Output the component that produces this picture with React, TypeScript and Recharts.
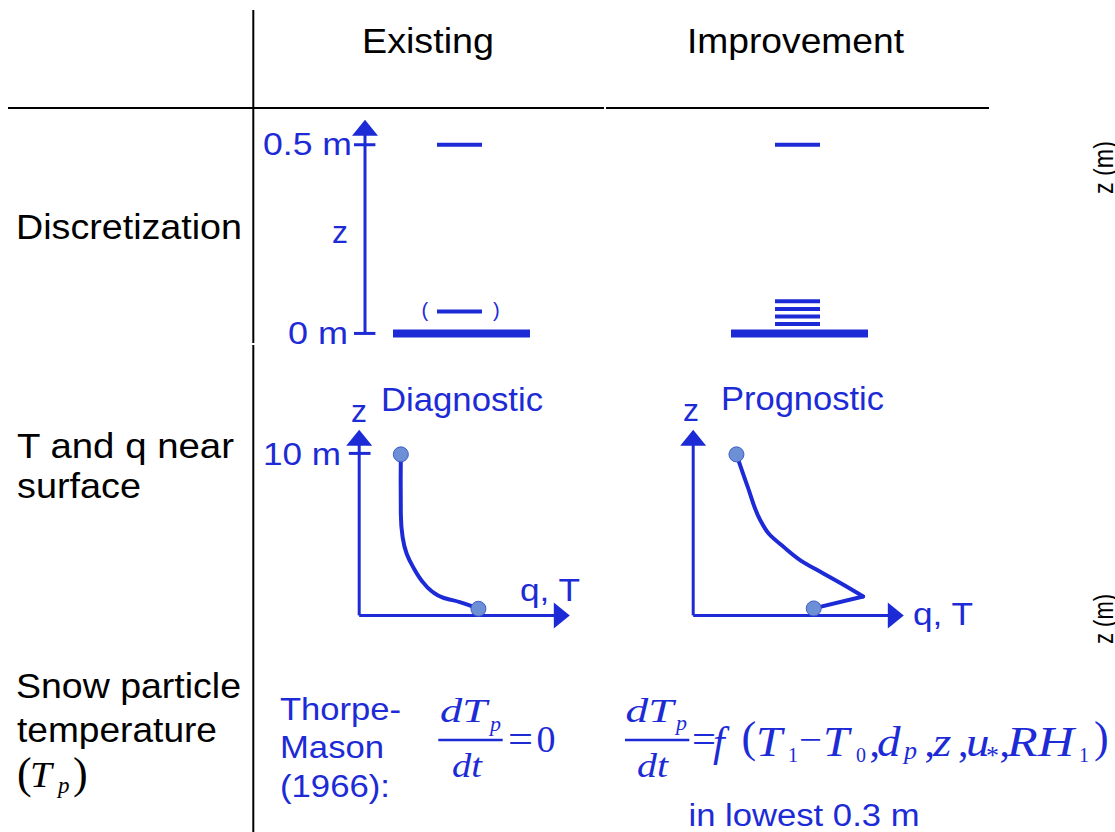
import React from 'react';
import { ComposedChart, Line, Scatter, XAxis, YAxis, ReferenceLine } from 'recharts';

// ---------- data ----------
const columnHeaders = ['Existing', 'Improvement'];
const rowLabels = ['Discretization', 'T and q near', 'surface', 'Snow particle', 'temperature'];

// Discretization panels (z in m)
const discTicks = [0, 0.5];
const discTickLabels = ['0 m', '0.5 m'];
const existingLevels = [0.5];
const existingOptionalLevels = [0.058];
const improvedLevels = [0.5, 0.085, 0.065, 0.045, 0.025];
const groundZ = 0;
const levelSpan = [3.6, 5.85];
const groundSpan = [1.4, 8.25];
const discAxisTop = 0.566;

// Near-surface profiles (z in m, q/T arbitrary units)
const diagnosticProfile = [
  { x: 2.57, z: 9.94 }, { x: 2.56, z: 8.33 }, { x: 2.57, z: 6.28 }, { x: 2.68, z: 4.83 },
  { x: 2.93, z: 3.81 }, { x: 3.33, z: 2.98 }, { x: 3.85, z: 2.16 }, { x: 4.47, z: 1.5 },
  { x: 5.19, z: 1.09 }, { x: 6.21, z: 0.82 }, { x: 7.36, z: 0.41 },
];
const diagnosticDots = [{ x: 2.57, z: 9.94 }, { x: 7.36, z: 0.41 }];
const prognosticProfile = [
  { x: 2.67, z: 9.94 }, { x: 3.37, z: 7.92 }, { x: 4.15, z: 5.86 }, { x: 4.67, z: 5.04 },
  { x: 5.59, z: 4.22 }, { x: 6.62, z: 3.4 }, { x: 8.06, z: 2.57 }, { x: 9.51, z: 1.75 },
  { x: 10.49, z: 1.17 },
];
const prognosticSurfaceLink = [{ x: 10.49, z: 1.17 }, { x: 7.44, z: 0.43 }];
const prognosticDots = [{ x: 2.67, z: 9.94 }, { x: 7.44, z: 0.43 }];
const profileTicks = [10];
const profileAxisTop = 11.46;
const profileAxisRight = 13.0;

// ---------- styles ----------
const BLUE = '#1d2bd6';
const DOT_FILL = '#6d8fd6';
const DOT_STROKE = '#3a5cc8';
const SANS = '"Liberation Sans", Arial, sans-serif';
const SERIF = '"Liberation Serif", "Times New Roman", serif';
const M = 24;

const arrowUp = (p: any) => (
  <polygon points={`${p.cx},${p.cy} ${p.cx - 13},${p.cy + 16} ${p.cx + 13},${p.cy + 16}`} fill={BLUE} />
);
const arrowRight = (p: any) => (
  <polygon points={`${p.cx},${p.cy} ${p.cx - 16},${p.cy - 13} ${p.cx - 16},${p.cy + 13}`} fill={BLUE} />
);
const dotShape = (p: any) => (
  <circle cx={p.cx} cy={p.cy} r={7.5} fill={DOT_FILL} stroke={DOT_STROKE} strokeWidth={1} />
);

const seg = (x0: number, x1: number, z: number) => [{ x: x0, z }, { x: x1, z }];

function DiscChart({ ox, oy, levels, optional, showAxis }: any) {
  const kx = 20, kz = 377.4;
  const xDom = [-1, 10], zDom = [-0.05, 0.6];
  const pw = (xDom[1] - xDom[0]) * kx, ph = (zDom[1] - zDom[0]) * kz;
  return (
    <div style={{ position: 'absolute', left: ox + xDom[0] * kx - M, top: oy - zDom[1] * kz - M }}>
      <ComposedChart width={pw + 2 * M} height={ph + 2 * M} margin={{ top: M, right: M, bottom: M, left: M }}>
        <XAxis type="number" dataKey="x" domain={xDom} hide allowDataOverflow />
        <YAxis type="number" dataKey="z" domain={zDom} hide allowDataOverflow />
        {showAxis && (
          <ReferenceLine segment={[{ x: 0, y: 0 }, { x: 0, y: 0.53 }]} stroke={BLUE} strokeWidth={3} ifOverflow="visible" />
        )}
        {showAxis && discTicks.map((t) => (
          <ReferenceLine key={t} segment={[{ x: -0.55, y: t }, { x: 0.52, y: t }]} stroke={BLUE} strokeWidth={3} ifOverflow="visible" />
        ))}
        {showAxis && (
          <Scatter data={[{ x: 0, z: discAxisTop }]} dataKey="z" shape={arrowUp} isAnimationActive={false} />
        )}
        <Line data={seg(groundSpan[0], groundSpan[1], groundZ)} dataKey="z" type="linear" stroke={BLUE} strokeWidth={8}
          dot={false} activeDot={false} isAnimationActive={false} />
        {levels.map((z: number, i: number) => (
          <Line key={'l' + i} data={seg(levelSpan[0], levelSpan[1], z)} dataKey="z" type="linear" stroke={BLUE} strokeWidth={4}
            dot={false} activeDot={false} isAnimationActive={false} />
        ))}
        {optional.map((z: number, i: number) => (
          <Line key={'o' + i} data={seg(levelSpan[0], levelSpan[1], z)} dataKey="z" type="linear" stroke={BLUE} strokeWidth={4}
            dot={false} activeDot={false} isAnimationActive={false} />
        ))}
      </ComposedChart>
    </div>
  );
}

function ProfileChart({ ox, oy, curve, link, dots, ticks }: any) {
  const k = 16.2;
  const xDom = [-1, 13.5], zDom = [-1, 12];
  const pw = (xDom[1] - xDom[0]) * k, ph = (zDom[1] - zDom[0]) * k;
  return (
    <div style={{ position: 'absolute', left: ox + xDom[0] * k - M, top: oy - zDom[1] * k - M }}>
      <ComposedChart width={pw + 2 * M} height={ph + 2 * M} margin={{ top: M, right: M, bottom: M, left: M }}>
        <XAxis type="number" dataKey="x" domain={xDom} hide allowDataOverflow />
        <YAxis type="number" dataKey="z" domain={zDom} hide allowDataOverflow />
        <ReferenceLine segment={[{ x: 0, y: 0 }, { x: 0, y: 10.6 }]} stroke={BLUE} strokeWidth={3} ifOverflow="visible" />
        <ReferenceLine segment={[{ x: 0, y: 0 }, { x: 12.1, y: 0 }]} stroke={BLUE} strokeWidth={3} ifOverflow="visible" />
        {ticks.map((t: number) => (
          <ReferenceLine key={t} segment={[{ x: -0.64, y: t }, { x: 0.7, y: t }]} stroke={BLUE} strokeWidth={3} ifOverflow="visible" />
        ))}
        <Scatter data={[{ x: 0, z: profileAxisTop }]} dataKey="z" shape={arrowUp} isAnimationActive={false} />
        <Scatter data={[{ x: profileAxisRight, z: 0 }]} dataKey="z" shape={arrowRight} isAnimationActive={false} />
        <Scatter data={dots} dataKey="z" shape={dotShape} isAnimationActive={false} />
        <Line data={curve} dataKey="z" type="monotoneY" stroke={BLUE} strokeWidth={4} dot={false} activeDot={false}
          isAnimationActive={false} strokeLinecap="round" strokeLinejoin="round" />
        {link && (
          <Line data={link} dataKey="z" type="linear" stroke={BLUE} strokeWidth={4} dot={false} activeDot={false}
            isAnimationActive={false} strokeLinecap="round" strokeLinejoin="round" />
        )}
      </ComposedChart>
    </div>
  );
}

const Txt = ({ x, y, size, w, sx, fill = '#000', family = SANS, italic = false, children }: any) => {
  const common = {
    fontSize: size, fill, fontFamily: family, fontStyle: italic ? 'italic' : 'normal',
    textLength: w, lengthAdjust: w ? 'spacingAndGlyphs' : undefined,
  } as any;
  if (sx) {
    return <text x={0} y={0} transform={`translate(${x},${y}) scale(${sx},1)`} {...common}>{children}</text>;
  }
  return <text x={x} y={y} {...common}>{children}</text>;
};
const B = (props: any) => <Txt fill={BLUE} {...props} />;
const BI = (props: any) => <Txt fill={BLUE} family={SERIF} italic {...props} />;
const BS = (props: any) => <Txt fill={BLUE} family={SERIF} {...props} />;

const MS = 1.12; // horizontal stretch of formula glyphs

export default function App() {
  return (
    <div style={{ position: 'absolute', left: 0, top: 0, width: 1115, height: 832, background: '#fff', overflow: 'hidden' }}>
      <DiscChart ox={365.3} oy={333} levels={existingLevels} optional={existingOptionalLevels} showAxis />
      <DiscChart ox={703} oy={333} levels={improvedLevels} optional={[]} showAxis={false} />
      <ProfileChart ox={359.3} oy={615} curve={diagnosticProfile} dots={diagnosticDots} ticks={profileTicks} />
      <ProfileChart ox={692.7} oy={615} curve={prognosticProfile} link={prognosticSurfaceLink} dots={prognosticDots} ticks={[]} />

      <svg width={1115} height={832} style={{ position: 'absolute', left: 0, top: 0, pointerEvents: 'none' }}>
        {/* table lines */}
        <line x1={8} y1={108} x2={604} y2={108} stroke="#000" strokeWidth={2} />
        <line x1={606} y1={108} x2={989} y2={108} stroke="#000" strokeWidth={2} />
        <line x1={253.3} y1={10} x2={253.3} y2={343} stroke="#000" strokeWidth={2} />
        <line x1={253.3} y1={345} x2={253.3} y2={832} stroke="#000" strokeWidth={2} />

        {/* headers and row labels */}
        <Txt x={362} y={53} size={35} w={132}>{columnHeaders[0]}</Txt>
        <Txt x={687} y={53} size={35} w={217}>{columnHeaders[1]}</Txt>
        <Txt x={16} y={239} size={35} w={226}>{rowLabels[0]}</Txt>
        <Txt x={17} y={458} size={35} w={217}>{rowLabels[1]}</Txt>
        <Txt x={17} y={497.5} size={35} w={124}>{rowLabels[2]}</Txt>
        <Txt x={16} y={697.5} size={35} w={225}>{rowLabels[3]}</Txt>
        <Txt x={17} y={741.5} size={35} w={200}>{rowLabels[4]}</Txt>
        <Txt x={17} y={788} size={44} family={SERIF}>(</Txt>
        <Txt x={30} y={786.7} size={35} family={SERIF} italic sx={MS}>T</Txt>
        <Txt x={58} y={793} size={23} family={SERIF} italic>p</Txt>
        <Txt x={73} y={788} size={44} family={SERIF}>)</Txt>

        {/* discretization labels */}
        <B x={263} y={155} size={31} w={89}>{discTickLabels[1]}</B>
        <B x={288} y={343.5} size={31} w={60}>{discTickLabels[0]}</B>
        <B x={332} y={243.3} size={32}>z</B>
        <B x={421.5} y={316.5} size={20}>(</B>
        <B x={493} y={316.5} size={20}>)</B>

        {/* profile labels */}
        <B x={381} y={410.7} size={33} w={162}>Diagnostic</B>
        <B x={351} y={421.7} size={32}>z</B>
        <B x={263} y={465} size={31} w={78}>10 m</B>
        <B x={520} y={601} size={31} w={60}>q, T</B>
        <B x={721} y={410} size={33} w={163}>Prognostic</B>
        <B x={683} y={420.7} size={32}>z</B>
        <B x={913} y={625} size={31} w={60}>q, T</B>

        {/* snow particle temperature */}
        <B x={280} y={720} size={32} w={121}>Thorpe-</B>
        <B x={280} y={758.3} size={32} w={104}>Mason</B>
        <B x={280} y={796.7} size={32} w={110}>(1966):</B>

        <BI x={440} y={721.7} size={33} w={47}>dT</BI>
        <BI x={490} y={730.5} size={22}>p</BI>
        <line x1={438.3} y1={740} x2={502.7} y2={740} stroke={BLUE} strokeWidth={2.5} />
        <BI x={452} y={776.7} size={33} w={30}>dt</BI>
        <BS x={508} y={751.7} size={37} w={25}>=</BS>
        <BS x={536.5} y={751.7} size={37} w={19}>0</BS>

        <BI x={625.5} y={721.7} size={33} w={48}>dT</BI>
        <BI x={676} y={730} size={22}>p</BI>
        <line x1={625} y1={740} x2={689.3} y2={740} stroke={BLUE} strokeWidth={2.5} />
        <BI x={637} y={776.7} size={33} w={31}>dt</BI>
        <BS x={692} y={752} size={37} w={24}>=</BS>
        <BI x={713} y={756} size={42}>f</BI>
        <BS x={741.5} y={752} size={44}>(</BS>
        <BI x={756} y={756} size={42} sx={MS}>T</BI>
        <BS x={788} y={762} size={20}>1</BS>
        <BS x={799} y={752} size={37} w={23}>−</BS>
        <BI x={823} y={756} size={42} sx={MS}>T</BI>
        <BS x={856} y={762} size={20}>0</BS>
        <BS x={869.5} y={756} size={42}>,</BS>
        <BI x={877} y={756} size={42} sx={MS}>d</BI>
        <BI x={904} y={759} size={26}>p</BI>
        <BS x={924.5} y={756} size={42}>,</BS>
        <BI x={933} y={756} size={42} sx={MS}>z</BI>
        <BS x={958} y={756} size={42}>,</BS>
        <BI x={966} y={756} size={42} sx={MS}>u</BI>
        <BS x={986} y={764} size={26}>*</BS>
        <BS x={999.5} y={756} size={42}>,</BS>
        <BI x={1007} y={756} size={42} w={67}>RH</BI>
        <BS x={1079} y={762} size={20}>1</BS>
        <BS x={1094} y={752} size={44}>)</BS>

        <B x={688.5} y={826} size={31} w={231}>in lowest 0.3 m</B>

        {/* clipped axis titles of the neighbouring panel */}
        <text x={1113} y={194} fontSize={28} fontFamily={SANS} fill="#000" textLength={53} lengthAdjust="spacingAndGlyphs"
          transform="rotate(-90 1113 194)">z (m)</text>
        <text x={1113} y={644} fontSize={28} fontFamily={SANS} fill="#000" textLength={50} lengthAdjust="spacingAndGlyphs"
          transform="rotate(-90 1113 644)">z (m)</text>
      </svg>
    </div>
  );
}
